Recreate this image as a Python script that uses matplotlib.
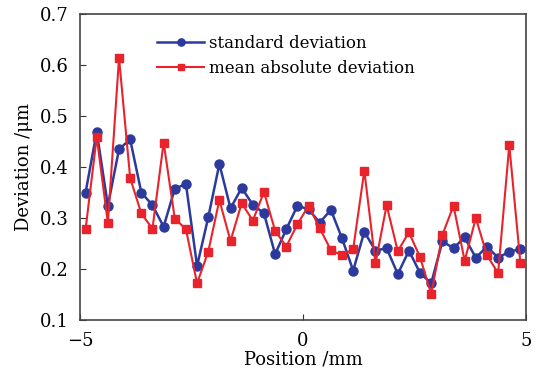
import numpy as np
import matplotlib
matplotlib.use('Agg')
import matplotlib.pyplot as plt

# datos
position = np.arange(-4.875, 5.0, 0.25)

std_dev = [0.350, 0.469, 0.324, 0.435, 0.454, 0.350, 0.325, 0.283, 0.357, 0.367,
           0.206, 0.301, 0.406, 0.319, 0.359, 0.326, 0.309, 0.229, 0.278, 0.324,
           0.317, 0.291, 0.316, 0.260, 0.197, 0.273, 0.236, 0.241, 0.190, 0.236,
           0.192, 0.172, 0.254, 0.241, 0.262, 0.222, 0.244, 0.222, 0.234, 0.239]

mean_abs_dev = [0.278, 0.459, 0.290, 0.614, 0.378, 0.309, 0.279, 0.448, 0.299, 0.278,
                0.172, 0.234, 0.335, 0.255, 0.329, 0.295, 0.351, 0.275, 0.244, 0.288,
                0.324, 0.280, 0.237, 0.227, 0.239, 0.393, 0.211, 0.325, 0.235, 0.272,
                0.223, 0.151, 0.267, 0.324, 0.216, 0.300, 0.227, 0.192, 0.443, 0.211]

labels = ['standard deviation', 'mean absolute deviation']

plt.rcParams['font.family'] = 'DejaVu Serif'
plt.rcParams['mathtext.fontset'] = 'dejavuserif'

fig = plt.figure(figsize=(5.36, 3.69), dpi=100)
ax = fig.add_axes([80/536, 1 - 320/369, 446/536, 306/369])

ax.plot(position, std_dev, color='#2b3a9c', lw=1.8, marker='o', ms=6.5,
        label=labels[0])
ax.plot(position, mean_abs_dev, color='#e8232b', lw=1.5, marker='s', ms=5.5,
        label=labels[1])

ax.set_xlim(-5, 5)
ax.set_ylim(0.1, 0.7)
ax.set_xticks([-5, 0, 5])
ax.set_xticklabels(['\u22125', '0', '5'])
ax.set_yticks(np.arange(0.1, 0.71, 0.1))
ax.tick_params(direction='in', labelsize=13, length=4, colors='#333333',
               labelcolor='black')
ax.tick_params(axis='x', pad=9)
ax.tick_params(axis='y', pad=8)
for s in ax.spines.values():
    s.set_color('#444444')
    s.set_linewidth(1.2)

ax.set_xlabel('Position /mm', fontsize=13, labelpad=0)
ax.set_ylabel('Deviation /\u03bcm', fontsize=13, labelpad=5)

leg = ax.legend(loc='upper left', bbox_to_anchor=(0.14, 0.98), frameon=False,
                fontsize=12, handlelength=2.8, handletextpad=0.3,
                labelspacing=0.45, markerscale=0.8)

fig.savefig('out.png', dpi=100)
